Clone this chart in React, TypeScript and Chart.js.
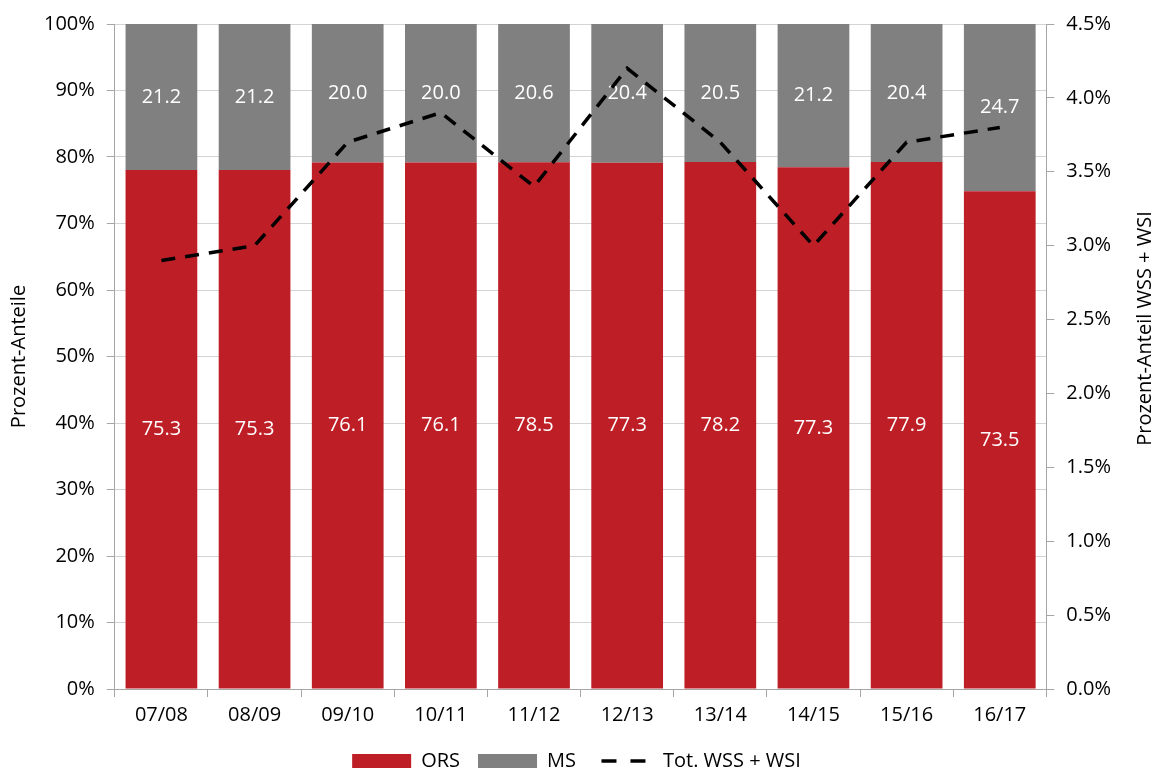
import React, { useEffect, useRef } from 'react';
import { Chart, registerables } from 'chart.js';

Chart.register(...registerables);

const categories = ['07/08', '08/09', '09/10', '10/11', '11/12', '12/13', '13/14', '14/15', '15/16', '16/17'];
const orsValues = [75.3, 75.3, 76.1, 76.1, 78.5, 77.3, 78.2, 77.3, 77.9, 73.5];
const msValues = [21.2, 21.2, 20.0, 20.0, 20.6, 20.4, 20.5, 21.2, 20.4, 24.7];
const totWssWsi = [2.9, 3.0, 3.7, 3.9, 3.4, 4.2, 3.7, 3.0, 3.7, 3.8];
const seriesNames = ['ORS', 'MS', 'Tot. WSS + WSI'];
const axisTitles = ['Prozent-Anteile', 'Prozent-Anteil WSS + WSI'];

const FONT = '"Open Sans", "Noto Sans", sans-serif';
const RED = '#BE1E26';
const GRAY = '#808080';

const share = (a: number[], b: number[]) => a.map((v, i) => (v / (v + b[i])) * 100);

const barLabels = {
  id: 'barLabels',
  afterDatasetDraw(chart: any, args: any) {
    const ds = chart.data.datasets[args.index];
    if (!ds.rawValues) return;
    const ctx = chart.ctx;
    ctx.save();
    ctx.fillStyle = '#ffffff';
    ctx.font = `20px ${FONT}`;
    ctx.textAlign = 'center';
    ctx.textBaseline = 'middle';
    args.meta.data.forEach((el: any, i: number) => {
      const p = el.getCenterPoint();
      ctx.fillText(ds.rawValues[i].toFixed(1), p.x, p.y);
    });
    ctx.restore();
  },
};

// Right axis title, reading bottom-to-top like the original
const rightTitle = {
  id: 'rightTitle',
  afterDraw(chart: any) {
    const ctx = chart.ctx;
    const area = chart.chartArea;
    ctx.save();
    ctx.fillStyle = '#000';
    ctx.font = `20px ${FONT}`;
    ctx.textAlign = 'center';
    ctx.textBaseline = 'middle';
    ctx.translate(chart.width - 13, (area.top + area.bottom) / 2 - 28);
    ctx.rotate(-Math.PI / 2);
    ctx.fillText(axisTitles[1], 0, 0);
    ctx.restore();
  },
};

export default function App() {
  const ref = useRef<HTMLCanvasElement>(null);
  useEffect(() => {
    if (!ref.current) return;
    const chart = new Chart(ref.current, {
      type: 'bar',
      data: {
        labels: categories,
        datasets: [
          {
            type: 'bar',
            label: seriesNames[0],
            data: share(orsValues, msValues),
            rawValues: orsValues,
            backgroundColor: RED,
            borderWidth: 0,
            yAxisID: 'y',
            order: 1,
          } as any,
          {
            type: 'bar',
            label: seriesNames[1],
            data: share(msValues, orsValues),
            rawValues: msValues,
            backgroundColor: GRAY,
            borderWidth: 0,
            yAxisID: 'y',
            order: 1,
          } as any,
          {
            type: 'line',
            label: seriesNames[2],
            data: totWssWsi,
            borderColor: '#000000',
            backgroundColor: '#000000',
            borderWidth: 3.5,
            borderDash: [14, 10],
            pointRadius: 0,
            tension: 0,
            fill: false,
            yAxisID: 'y1',
            order: 0,
          } as any,
        ],
      },
      options: {
        responsive: false,
        animation: false,
        datasets: { bar: { barPercentage: 0.77, categoryPercentage: 1 } },
        layout: { padding: { left: 7, right: 12, top: 11, bottom: -10 } },
        plugins: {
          tooltip: { enabled: false },
          legend: {
            position: 'bottom',
            labels: {
              usePointStyle: true,
              pointStyleWidth: 59,
              boxHeight: 14,
              padding: 18,
              color: '#000',
              font: { family: FONT, size: 20 },
              generateLabels: (c: any) => {
                const items = (Chart.defaults.plugins.legend.labels as any).generateLabels(c);
                items.sort((a: any, b: any) => a.datasetIndex - b.datasetIndex);
                return items.map((it: any) => {
                  if (it.datasetIndex < 2) {
                    return { ...it, pointStyle: 'rect', lineWidth: 0, strokeStyle: it.fillStyle };
                  }
                  return {
                    ...it,
                    pointStyle: 'line',
                    lineWidth: 3.5,
                    strokeStyle: '#000',
                    lineDash: [15, 14],
                    lineDashOffset: 21.5,
                  };
                });
              },
            },
          },
        },
        scales: {
          x: {
            stacked: true,
            border: { color: '#a6a6a6' },
            grid: { drawOnChartArea: false, tickLength: 8, color: '#a6a6a6' },
            ticks: { color: '#000', font: { family: FONT, size: 20 }, padding: 6 },
          },
          y: {
            stacked: true,
            position: 'left',
            min: 0,
            max: 100,
            border: { color: '#a6a6a6' },
            grid: { color: '#d4d4d4', tickColor: '#a6a6a6', tickLength: 8 },
            ticks: {
              stepSize: 10,
              color: '#000',
              padding: 12,
              font: { family: FONT, size: 20 },
              callback: (v: any) => `${v}%`,
            },
            title: {
              display: true,
              text: axisTitles[0],
              color: '#000',
              font: { family: FONT, size: 20 },
              padding: { top: 0, bottom: 1 },
            },
          },
          y1: {
            position: 'right',
            min: 0,
            max: 4.5,
            border: { color: '#a6a6a6' },
            grid: { drawOnChartArea: false, tickColor: '#a6a6a6', tickLength: 8 },
            afterFit: (scale: any) => {
              scale.width += 23;
            },
            ticks: {
              stepSize: 0.5,
              color: '#000',
              padding: 12,
              font: { family: FONT, size: 20 },
              callback: (v: any) => `${Number(v).toFixed(1)}%`,
            },
          },
        },
      } as any,
      plugins: [barLabels, rightTitle],
    });
    return () => chart.destroy();
  }, []);
  return (
    <div style={{ position: 'fixed', left: 0, top: 0, width: 1158, height: 771, background: '#fff' }}>
      <canvas ref={ref} width={1158} height={771} />
    </div>
  );
}
